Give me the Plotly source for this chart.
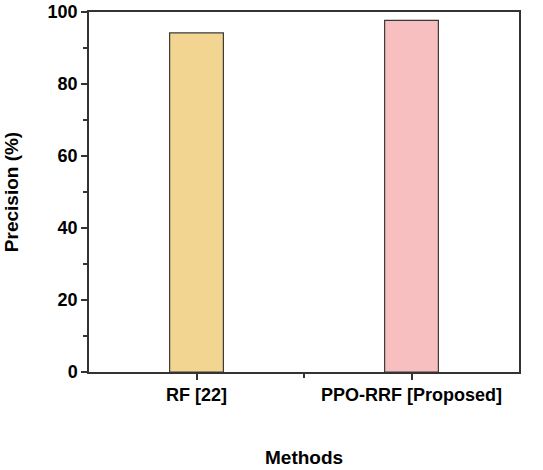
import plotly.graph_objects as go

methods = ["RF [22]", "PPO-RRF [Proposed]"]
precision = [94.2, 97.7]
bar_colors = ["#F2D590", "#F8BFC0"]
y_ticks = [0, 20, 40, 60, 80, 100]

fig = go.Figure()
fig.add_trace(go.Bar(
    x=[0, 1], y=precision, width=0.25,
    marker=dict(color=bar_colors, line=dict(color="#3a3a3a", width=1.2)),
))

font = "Liberation Sans, Arial, sans-serif"
fig.update_layout(
    width=543, height=470,
    margin=dict(l=89, r=24, t=12, b=98),
    paper_bgcolor="white", plot_bgcolor="white",
    showlegend=False,
    font=dict(family=font, color="black"),
)
fig.update_xaxes(
    range=[-0.5, 1.5], automargin=False,
    tickvals=[0, 1], ticktext=["<b>%s</b>" % m for m in methods],
    tickfont=dict(size=18, family=font),
    ticks="outside", ticklen=6, tickwidth=1.5, tickcolor="#333",
    minor=dict(tickvals=[0.5], ticks="outside", ticklen=4, tickwidth=1.5, tickcolor="#333"),
    showline=True, linecolor="#333", linewidth=1.5, mirror=True,
    showgrid=False, zeroline=False,
)
fig.update_yaxes(
    range=[0, 100], automargin=False,
    tickvals=y_ticks, ticktext=["<b>%d</b>" % v for v in y_ticks],
    tickfont=dict(size=18, family=font),
    ticks="outside", ticklen=6, tickwidth=1.5, tickcolor="#333",
    minor=dict(dtick=10, ticks="outside", ticklen=4, tickwidth=1.5, tickcolor="#333"),
    showline=True, linecolor="#333", linewidth=1.5, mirror=True,
    showgrid=False, zeroline=False,
)
fig.add_annotation(
    text="<b>Methods</b>", xref="paper", yref="paper", x=0.5, y=-0.237,
    showarrow=False, font=dict(size=19, family=font), xanchor="center", yanchor="middle",
    borderpad=0,
)
fig.add_annotation(
    text="<b>Precision (%)</b>", xref="paper", yref="paper", x=-0.181, y=0.5,
    showarrow=False, textangle=-90, font=dict(size=19, family=font),
    xanchor="center", yanchor="middle",
)

fig.write_html("out.html", config={"displayModeBar": False},
               post_script="document.body.style.margin='0';")
